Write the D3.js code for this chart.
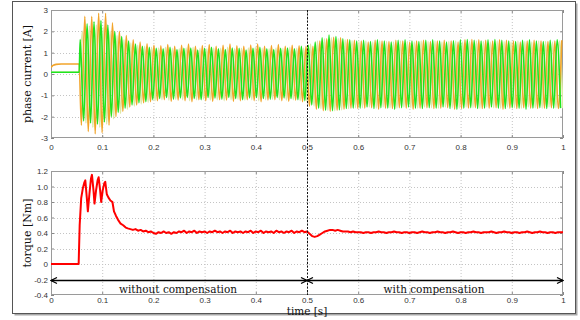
<!DOCTYPE html>
<html>
<head>
<meta charset="utf-8">
<script src="https://cdn.jsdelivr.net/npm/d3@7"></script>
<style>
  body { margin: 0; background: #fff; }
</style>
</head>
<body>
<div id="chart"></div>
<script>
// ---- data ----
const xTicks = [0, 0.1, 0.2, 0.3, 0.4, 0.5, 0.6, 0.7, 0.8, 0.9, 1];
const currentTicks = [-3, -2, -1, 0, 1, 2, 3];
const torqueTicks = [-0.4, -0.2, 0, 0.2, 0.4, 0.6, 0.8, 1.0, 1.2];
const torqueTickLabels = ['-0.4', '-0.2', '0', '0.2', '0.4', '0.6', '0.8', '1.0', '1.2'];

const tStart = 0.055;     // inverter switched on
const tSwitch = 0.5;      // compensation switched on
const period = 0.0135;    // electrical period of phase currents [s]

// current before start: [t, i]
const greenPre = [[0, 0.08], [0.055, 0.08]];
const orangePre = [[0, 0.3], [0.004, 0.4], [0.01, 0.45], [0.02, 0.47], [0.055, 0.47]];
const palePre = [[0, 0.08], [0.055, 0.08]];

// per-cycle positive / negative peaks of each phase current [A]
const greenHi = [1.62,2.35,2.45,2.5,2.3,2.0,1.75,1.55,1.4,1.3,1.25,
  1.2,1.18,1.25,1.15,1.2,1.22,1.12,1.2,1.25,1.18,1.15,1.22,1.2,1.12,1.2,1.25,1.18,1.15,1.2,1.22,1.18,1.3,
  1.35,1.5,1.7,1.82,1.75,1.65,1.6,
  1.55,1.58,1.52,1.6,1.55,1.5,1.58,1.6,1.55,1.52,1.58,1.6,1.55,1.5,1.56,1.6,1.62,1.58,1.55,1.6,
  1.62,1.58,1.55,1.52,1.58,1.6,1.55,1.52,1.58,1.6];
const greenLo = [-2.2,-2.3,-2.35,-2.25,-2.0,-1.8,-1.6,-1.45,-1.35,-1.3,-1.2,
  -1.15,-1.1,-1.18,-1.12,-1.1,-1.15,-1.2,-1.1,-1.12,-1.18,-1.1,-1.15,-1.2,-1.12,-1.1,-1.15,-1.18,-1.1,-1.12,-1.15,-1.2,-1.25,
  -1.45,-1.6,-1.7,-1.72,-1.68,-1.62,-1.6,
  -1.6,-1.55,-1.62,-1.58,-1.6,-1.65,-1.58,-1.55,-1.6,-1.62,-1.58,-1.6,-1.55,-1.62,-1.65,-1.6,-1.58,-1.62,-1.6,-1.55,
  -1.6,-1.62,-1.58,-1.6,-1.65,-1.6,-1.58,-1.62,-1.6,-1.6];
const orangeHi = [2.7,2.7,2.85,2.85,2.4,2.0,1.8,1.6,1.5,1.42,1.35,
  1.32,1.38,1.3,1.35,1.4,1.3,1.33,1.38,1.3,1.35,1.4,1.32,1.3,1.36,1.4,1.3,1.33,1.38,1.3,1.35,1.32,1.3,
  1.3,1.55,1.65,1.72,1.7,1.62,1.58,
  1.55,1.5,1.58,1.55,1.52,1.58,1.55,1.5,1.55,1.58,1.52,1.55,1.58,1.55,1.5,1.6,1.62,1.6,1.58,1.55,
  1.6,1.58,1.55,1.5,1.55,1.58,1.55,1.52,1.55,1.58];
const orangeLo = [-2.4,-2.7,-2.8,-2.75,-2.4,-2.0,-1.75,-1.55,-1.45,-1.35,-1.3,
  -1.25,-1.2,-1.28,-1.22,-1.25,-1.3,-1.2,-1.25,-1.28,-1.2,-1.22,-1.28,-1.25,-1.2,-1.25,-1.3,-1.22,-1.2,-1.25,-1.28,-1.22,-1.3,
  -1.5,-1.65,-1.72,-1.75,-1.7,-1.65,-1.6,
  -1.62,-1.6,-1.58,-1.65,-1.6,-1.62,-1.58,-1.6,-1.65,-1.6,-1.58,-1.62,-1.6,-1.58,-1.65,-1.62,-1.6,-1.58,-1.62,-1.6,
  -1.58,-1.65,-1.6,-1.62,-1.58,-1.6,-1.62,-1.6,-1.58,-1.62];
const paleHi = [2.0,2.25,2.3,2.2,2.0,1.8,1.6,1.45,1.35,1.3,1.25,
  1.22,1.25,1.2,1.18,1.22,1.25,1.2,1.18,1.22,1.2,1.25,1.18,1.2,1.22,1.25,1.2,1.18,1.22,1.2,1.25,1.2,1.22,
  1.4,1.55,1.65,1.7,1.66,1.6,1.56,
  1.52,1.55,1.5,1.55,1.52,1.5,1.55,1.52,1.5,1.55,1.52,1.55,1.5,1.52,1.55,1.5,1.52,1.55,1.52,1.5,
  1.55,1.52,1.5,1.55,1.52,1.5,1.55,1.52,1.5,1.55];
const paleLo = [-2.3,-2.5,-2.5,-2.35,-2.1,-1.85,-1.65,-1.5,-1.4,-1.32,-1.25,
  -1.2,-1.22,-1.18,-1.2,-1.25,-1.2,-1.18,-1.22,-1.2,-1.25,-1.2,-1.18,-1.22,-1.2,-1.25,-1.2,-1.18,-1.2,-1.22,-1.2,-1.25,-1.3,
  -1.5,-1.62,-1.7,-1.72,-1.68,-1.62,-1.58,
  -1.58,-1.55,-1.6,-1.55,-1.58,-1.6,-1.55,-1.58,-1.6,-1.55,-1.58,-1.6,-1.55,-1.58,-1.6,-1.55,-1.58,-1.6,-1.55,-1.58,
  -1.6,-1.55,-1.58,-1.6,-1.55,-1.58,-1.6,-1.55,-1.58,-1.6];

// torque: start-up transient as [t, T] pairs, then samples every torqueStep
const torqueStartT = [0, 0.054, 0.056, 0.059, 0.062, 0.065, 0.067, 0.070, 0.072, 0.075, 0.078, 0.080,
  0.083, 0.085, 0.088, 0.091, 0.093, 0.096, 0.098, 0.101, 0.104, 0.106, 0.109, 0.112, 0.116, 0.120,
  0.123, 0.127, 0.131, 0.136, 0.141, 0.146];
const torqueStartV = [0, 0, 0.5, 0.85, 0.97, 1.05, 1.08, 0.85, 0.68, 0.9, 1.1, 1.15,
  0.95, 0.78, 0.95, 1.08, 1.12, 0.95, 0.8, 0.95, 1.04, 1.06, 0.9, 0.86, 0.82, 0.8,
  0.68, 0.62, 0.57, 0.52, 0.5, 0.47];
const torqueT0 = 0.15, torqueStep = 0.005;
const torqueV = [0.46,0.45,0.44,0.45,0.43,0.44,0.42,0.43,0.41,0.42,0.40,
  0.39,0.41,0.40,0.42,0.40,0.41,0.39,0.41,0.40,0.42,
  0.41,0.43,0.40,0.42,0.41,0.43,0.40,0.42,0.41,0.42,
  0.40,0.42,0.41,0.43,0.41,0.42,0.40,0.42,0.41,0.43,
  0.40,0.42,0.41,0.42,0.40,0.42,0.41,0.43,0.40,0.42,
  0.41,0.43,0.40,0.42,0.41,0.42,0.40,0.43,0.41,0.42,
  0.40,0.42,0.41,0.43,0.40,0.42,0.41,0.43,0.41,0.42,
  0.39,0.36,0.35,0.36,0.38,0.40,0.42,0.43,0.44,0.44,0.43,0.44,0.43,0.42,0.42,0.42,0.41,0.42,0.41,0.41,
  0.41,0.40,0.41,0.41,0.40,0.41,0.41,0.42,0.41,0.41,
  0.40,0.41,0.41,0.42,0.41,0.41,0.40,0.41,0.41,0.40,
  0.41,0.41,0.40,0.41,0.42,0.41,0.41,0.40,0.41,0.41,
  0.42,0.41,0.41,0.40,0.41,0.41,0.42,0.41,0.40,0.41,
  0.41,0.40,0.41,0.41,0.42,0.41,0.41,0.40,0.41,0.41,
  0.41,0.42,0.41,0.40,0.41,0.41,0.42,0.41,0.41,0.40,
  0.41,0.41,0.40,0.41,0.41,0.42,0.41,0.40,0.41,0.41,
  0.42,0.41,0.41,0.40,0.41,0.41,0.40,0.41,0.41,0.41];

// phases: colour, lead (fraction of a period) and whether the first peak is positive
const phases = [
  { name: 'pale',   pre: palePre,   hi: paleHi,   lo: paleLo,   lead: 0.48, startsHigh: true,  color: '#dde9a6' },
  { name: 'orange', pre: orangePre, hi: orangeHi, lo: orangeLo, lead: 0.32, startsHigh: false, color: '#f2a52b' },
  { name: 'green',  pre: greenPre,  hi: greenHi,  lo: greenLo,  lead: 0.15, startsHigh: true,  color: '#1ee41e' }
];

// ---- layout ----
const W = 580, H = 320;
const x = d3.scaleLinear().domain([0, 1]).range([51, 563]);
const yI = d3.scaleLinear().domain([-3, 3]).range([138, 10]);
const yT = d3.scaleLinear().domain([-0.4, 1.2]).range([295, 171]);

const svg = d3.select('#chart').append('svg').attr('width', W).attr('height', H);

// figure frame with a small drop shadow
svg.append('rect').attr('x', 14.5).attr('y', 3.5).attr('width', 563).attr('height', 312).attr('fill', '#a8a8a8');
svg.append('rect').attr('x', 12.5).attr('y', 1.5).attr('width', 563).attr('height', 312)
  .attr('fill', '#fff').attr('stroke', '#555').attr('stroke-width', 1);

function panel(y, yTicks, yFmt, xPad, id) {
  const g = svg.append('g');
  const [yb, yt] = y.range();
  const [xl, xr] = x.range();
  g.append('rect').attr('x', xl).attr('y', yt).attr('width', xr - xl).attr('height', yb - yt).attr('fill', '#fff');

  // dotted grid
  g.append('g').selectAll('line').data(xTicks.slice(1, -1)).join('line')
    .attr('x1', d => x(d) + 0.5).attr('x2', d => x(d) + 0.5).attr('y1', yt).attr('y2', yb)
    .attr('stroke', '#c4c4c4').attr('stroke-dasharray', '1,2');
  g.append('g').selectAll('line').data(yTicks.slice(1, -1)).join('line')
    .attr('x1', xl).attr('x2', xr).attr('y1', d => Math.round(y(d)) + 0.5).attr('y2', d => Math.round(y(d)) + 0.5)
    .attr('stroke', '#c4c4c4').attr('stroke-dasharray', '1,2');

  svg.append('clipPath').attr('id', id).append('rect')
    .attr('x', xl).attr('y', yt).attr('width', xr - xl).attr('height', yb - yt);

  const styleAxis = a => {
    a.select('.domain').remove();
    a.selectAll('line').attr('stroke', '#888');
    a.selectAll('text').style('font-family', '"Liberation Sans", Arial, sans-serif')
      .style('font-size', '8px').attr('fill', '#333');
  };
  g.append('g').attr('transform', `translate(0,${yb})`)
    .call(d3.axisBottom(x).tickValues(xTicks).tickSizeInner(-3).tickSizeOuter(0).tickPadding(xPad).tickFormat(d => String(d)))
    .call(styleAxis);
  g.append('g').attr('transform', `translate(0,${yt})`)
    .call(d3.axisTop(x).tickValues(xTicks).tickSizeInner(-3).tickSizeOuter(0).tickFormat(''))
    .call(styleAxis);
  g.append('g').attr('transform', `translate(${xl},0)`)
    .call(d3.axisLeft(y).tickValues(yTicks).tickSizeInner(-3).tickSizeOuter(0).tickPadding(3).tickFormat(yFmt))
    .call(styleAxis);
  g.append('g').attr('transform', `translate(${xr},0)`)
    .call(d3.axisRight(y).tickValues(yTicks).tickSizeInner(-3).tickSizeOuter(0).tickFormat(''))
    .call(styleAxis);
  g.append('rect').attr('x', xl + 0.5).attr('y', yt + 0.5).attr('width', xr - xl - 1).attr('height', yb - yt - 1)
    .attr('fill', 'none').attr('stroke', '#9a9a9a');
  return g;
}

panel(yI, currentTicks, d => String(d), 6, 'clipTop');
panel(yT, torqueTicks, (d, i) => torqueTickLabels[i], 2, 'clipBot');

// phase currents: peaks joined with a monotone curve
const lineI = d3.line().x(d => x(d[0])).y(d => yI(d[1])).curve(d3.curveMonotoneX);
const curG = svg.append('g').attr('clip-path', 'url(#clipTop)');
phases.forEach(p => {
  const pts = p.pre.slice();
  const n = Math.min(p.hi.length, p.lo.length);
  for (let k = 0; k < n; k++) {
    const a = p.startsHigh ? p.hi[k] : p.lo[k];
    const b = p.startsHigh ? p.lo[k] : p.hi[k];
    pts.push([tStart + period * (p.lead + k), a]);
    pts.push([tStart + period * (p.lead + k + 0.5), b]);
  }
  curG.append('path').datum(pts).attr('d', lineI)
    .attr('fill', 'none').attr('stroke', p.color).attr('stroke-width', 1.6).attr('stroke-linejoin', 'round');
});

// torque
const torquePts = torqueStartT.map((t, i) => [t, torqueStartV[i]])
  .concat(torqueV.map((v, i) => [torqueT0 + i * torqueStep, v]));
svg.append('g').attr('clip-path', 'url(#clipBot)').append('path').datum(torquePts)
  .attr('d', d3.line().x(d => x(d[0])).y(d => yT(d[1])))
  .attr('fill', 'none').attr('stroke', '#ff0000').attr('stroke-width', 2).attr('stroke-linejoin', 'round');

// switching instant
svg.append('line').attr('x1', Math.round(x(tSwitch)) + 0.5).attr('x2', Math.round(x(tSwitch)) + 0.5)
  .attr('y1', yI.range()[1]).attr('y2', yT.range()[0])
  .attr('stroke', '#111').attr('stroke-width', 1).attr('stroke-dasharray', '2,1.5');

// interval arrows
const defs = svg.append('defs');
defs.append('marker').attr('id', 'arr').attr('viewBox', '0 0 8 8').attr('refX', 7).attr('refY', 4)
  .attr('markerWidth', 8).attr('markerHeight', 8).attr('markerUnits', 'userSpaceOnUse')
  .attr('orient', 'auto-start-reverse')
  .append('path').attr('d', 'M1,1 L7,4 L1,7').attr('fill', 'none').attr('stroke', '#000').attr('stroke-width', 1.2);

const intervals = [
  { from: 0, to: tSwitch, label: 'without compensation' },
  { from: tSwitch, to: 1, label: 'with compensation' }
];
const yArrow = Math.round(yT(-0.2)) + 0.5;
intervals.forEach(iv => {
  svg.append('line').attr('x1', x(iv.from)).attr('x2', x(iv.to)).attr('y1', yArrow).attr('y2', yArrow)
    .attr('stroke', '#000').attr('stroke-width', 1.5)
    .attr('marker-start', 'url(#arr)').attr('marker-end', 'url(#arr)');
  svg.append('text').attr('x', (x(iv.from) + x(iv.to)) / 2 - 1).attr('y', yArrow + 12)
    .attr('text-anchor', 'middle').style('font-family', '"DejaVu Serif", serif').style('font-size', '10.5px')
    .attr('fill', '#111').text(iv.label);
});

// axis titles
const serif = '"DejaVu Serif", serif';
svg.append('text').attr('transform', `translate(31,${(yI.range()[0] + yI.range()[1]) / 2}) rotate(-90)`)
  .attr('text-anchor', 'middle').style('font-family', serif).style('font-size', '11px').attr('fill', '#111')
  .text('phase current [A]');
svg.append('text').attr('transform', `translate(31,${(yT.range()[0] + yT.range()[1]) / 2}) rotate(-90)`)
  .attr('text-anchor', 'middle').style('font-family', serif).style('font-size', '11px').attr('fill', '#111')
  .text('torque [Nm]');
svg.append('text').attr('x', x(0.5)).attr('y', 314.5)
  .attr('text-anchor', 'middle').style('font-family', serif).style('font-size', '10.5px').attr('fill', '#111')
  .text('time [s]');
</script>
</body>
</html>
